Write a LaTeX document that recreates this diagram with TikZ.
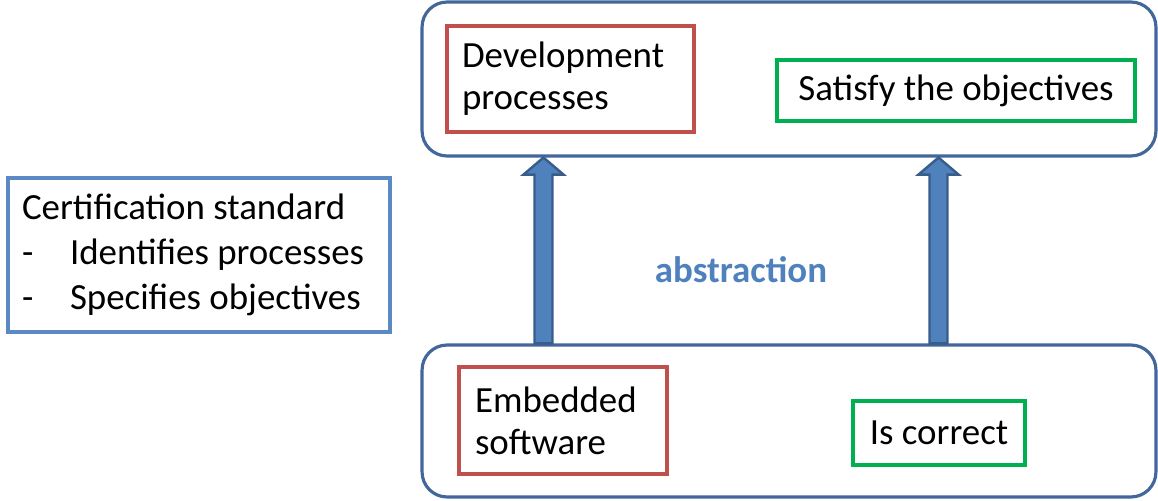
\documentclass[tikz,border=0pt]{standalone}
\usepackage{fontspec}
\setmainfont{Carlito}
\usetikzlibrary{calc}

\definecolor{frameblue}{HTML}{41679B}
\definecolor{stdblue}{HTML}{5B89C4}
\definecolor{procred}{HTML}{C0504D}
\definecolor{objgreen}{HTML}{00B050}
\definecolor{arrowfill}{HTML}{4F81BD}
\definecolor{arrowedge}{HTML}{385D8A}

% fat block arrow from #1 (foot) up to #2 (tip)
\newcommand{\fatarrow}[2]{%
  \draw[liftarrow] ($(#1)+(-9,0)$) -- ($(#2)+(-9,17)$) -- ($(#2)+(-20,17)$) -- (#2)
    -- ($(#2)+(20,17)$) -- ($(#2)+(9,17)$) -- ($(#1)+(9,0)$) -- cycle;}

\begin{document}
\begin{tikzpicture}[x=0.02cm,y=-0.02cm,
  txt/.style={font=\fontsize{21}{24}\selectfont},
  level/.style={draw=frameblue, line width=1.8pt, rounded corners=0.5cm, minimum width=14.68cm},
  procbox/.style={txt, draw=procred, line width=2.2pt, align=left,
    execute at begin node={\spaceskip=0pt\relax}},
  objbox/.style={txt, draw=objgreen, line width=2.2pt, align=center},
  stdbox/.style={draw=stdblue, line width=2.4pt, align=left, inner xsep=0.28cm,
    font=\fontsize{21}{25.5}\selectfont, execute at begin node={\spaceskip=0pt\relax}},
  liftarrow/.style={fill=arrowfill, draw=arrowedge, line width=1.4pt, line join=miter}]
  \useasboundingbox (0,0) rectangle (1158,500);

  % Upper level: processes
  \node[level, minimum height=3.08cm] (upper) at (789,79) {};
  \node[procbox, text width=4.34cm, inner xsep=0.3cm, minimum height=2.12cm] (devproc) at (570.5,79) {Development\\processes};
  \node[objbox, minimum width=7.16cm, minimum height=1.22cm] (objsat) at (956,90.5) {Satisfy the objectives};

  % Lower level: software
  \node[level, minimum height=3.04cm] (lower) at (789,421) {};
  \node[procbox, text width=3.52cm, inner xsep=0.32cm, minimum height=2.14cm] (embsw) at (563,420.5) {Embedded\\software};
  \node[objbox, minimum width=3.44cm, minimum height=1.28cm] (iscorr) at (939,433) {Is correct};

  % Standard
  \node[stdbox, text width=7.08cm, minimum height=3.08cm] (certstd) at (199,255)
    {Certification standard\\
     \makebox[0.96cm][l]{-}Identifies processes\\
     \makebox[0.96cm][l]{-}Specifies objectives};

  % Abstraction arrows
  \path (lower.north west) ++(123,0) coordinate (foot1);
  \path (lower.north west) ++(518,0) coordinate (foot2);
  \coordinate (tip1) at (foot1 |- upper.south);
  \coordinate (tip2) at (foot2 |- upper.south);
  \fatarrow{foot1}{tip1}
  \fatarrow{foot2}{tip2}
  \node[txt, font=\fontsize{21}{24}\selectfont\bfseries, text=arrowfill] (abstr) at (741,270) {abstraction};
\end{tikzpicture}
\end{document}
